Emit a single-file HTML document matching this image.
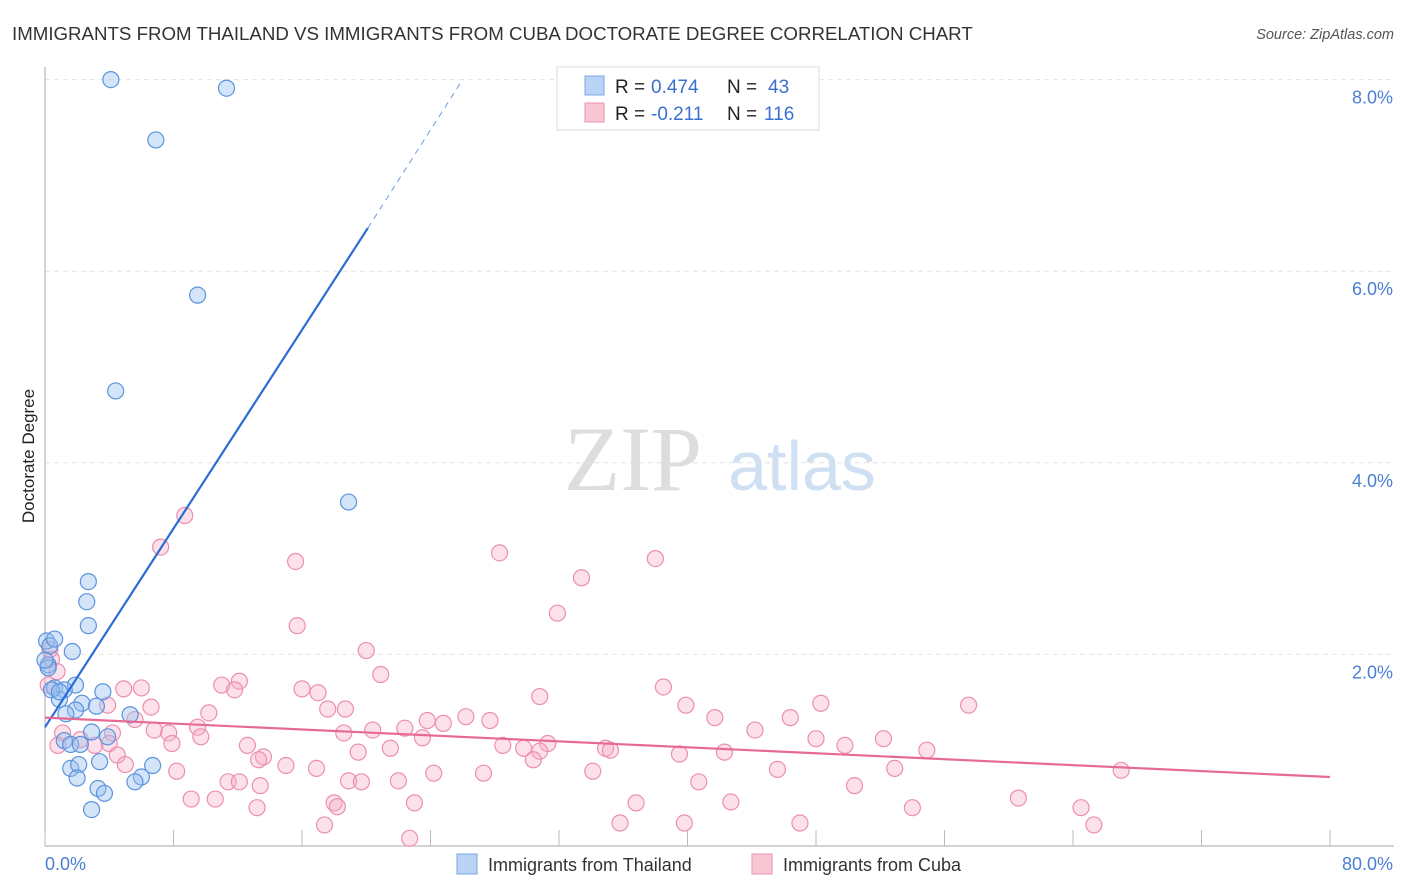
<!DOCTYPE html>
<html><head><meta charset="utf-8"><style>
body{margin:0;background:#fff;font-family:"Liberation Sans",sans-serif;}
svg{display:block}
</style></head><body>
<svg id="chart" width="1406" height="892">
<text x="12" y="40" font-size="18.7" fill="#333">IMMIGRANTS FROM THAILAND VS IMMIGRANTS FROM CUBA DOCTORATE DEGREE CORRELATION CHART</text>
<text x="1394" y="39" font-size="14.5" fill="#555" font-style="italic" text-anchor="end">Source: ZipAtlas.com</text>
<text x="34" y="456" font-size="17" fill="#222" text-anchor="middle" transform="rotate(-90 34 456)">Doctorate Degree</text>
<g><text x="633" y="490" font-size="92" fill="#ddd" font-family="Liberation Serif,serif" text-anchor="middle">ZIP</text><text x="802" y="490" font-size="70" fill="#cfe0f3" text-anchor="middle">atlas</text></g>
<g id="grid"></g><g id="marks"></g>
<g>
<rect x="557" y="67" width="262" height="63" fill="#fff" stroke="#ddd"/>
<rect x="585" y="76" width="19" height="19" fill="#b9d3f5" stroke="#7aa6e0"/>
<rect x="585" y="103" width="19" height="19" fill="#f9c6d4" stroke="#e996b0"/>
<text x="615" y="93" font-size="19" fill="#222">R =</text>
<text x="651" y="93" font-size="19" fill="#3a6fd0">0.474</text>
<text x="727" y="93" font-size="19" fill="#222">N =</text>
<text x="768" y="93" font-size="19" fill="#3a6fd0">43</text>
<text x="615" y="120" font-size="19" fill="#222">R =</text>
<text x="651" y="120" font-size="19" fill="#3a6fd0">-0.211</text>
<text x="727" y="120" font-size="19" fill="#222">N =</text>
<text x="764" y="120" font-size="19" fill="#3a6fd0">116</text>
</g>
<g>
<rect x="457" y="854" width="20" height="20" fill="#b9d3f5" stroke="#7aa6e0"/>
<text x="488" y="871" font-size="18" fill="#333">Immigrants from Thailand</text>
<rect x="752" y="854" width="20" height="20" fill="#f9c6d4" stroke="#e996b0"/>
<text x="783" y="871" font-size="18" fill="#333">Immigrants from Cuba</text>
</g>
</svg>
<script>
const yTicks=[2,4,6,8];
const xTickLabels=["0.0%","80.0%"];
const thaiX=[4.1,11.3,6.9,9.5,4.4,18.9,2.7,2.6,2.7,0.1,0.3,1.7,0.2,0.6,1.9,1.2,3.6,0.9,2.3,3.2,1.9,1.3,5.3,2.9,3.9,1.2,1.6,2.2,6.7,1.6,2.1,3.4,6.0,2.0,5.6,3.3,3.7,2.9,0.2,0.4,0.9,0.0,0.6];
const thaiY=[8.0,7.91,7.37,5.75,4.75,3.59,2.76,2.55,2.3,2.14,2.09,2.03,1.89,1.65,1.68,1.63,1.61,1.53,1.49,1.46,1.42,1.38,1.37,1.19,1.14,1.1,1.06,1.06,0.84,0.81,0.85,0.88,0.72,0.71,0.67,0.6,0.55,0.38,1.86,1.63,1.61,1.94,2.16];
const cubaX=[8.7,7.2,15.6,28.3,38.0,33.4,31.9,15.7,20.0,20.9,0.4,0.2,4.9,6.0,11.0,12.1,11.8,16.0,17.0,30.8,38.5,39.9,48.3,57.5,6.6,3.9,5.6,10.2,17.6,18.7,23.8,26.2,27.7,41.7,46.4,44.2,1.1,4.2,6.8,7.7,9.5,2.2,3.1,4.0,7.9,9.7,12.6,13.6,18.6,20.4,22.4,23.5,24.8,28.5,29.8,31.3,30.8,34.9,35.2,39.5,42.3,48.0,49.8,52.2,54.9,0.8,4.5,5.0,8.2,13.3,15.0,16.9,19.5,21.5,24.2,27.3,30.4,34.1,40.7,45.6,52.9,67.0,11.4,12.1,13.4,18.9,19.7,22.0,9.1,10.6,13.2,18.0,18.2,23.0,36.8,42.7,50.4,54.0,60.6,64.5,17.4,22.7,35.8,39.8,47.0,65.3,0.3,0.75];
const cubaY=[3.45,3.12,2.97,3.06,3.0,2.8,2.43,2.3,2.04,1.79,1.95,1.68,1.64,1.65,1.68,1.72,1.63,1.64,1.6,1.56,1.66,1.47,1.49,1.47,1.45,1.47,1.32,1.39,1.43,1.43,1.31,1.35,1.31,1.34,1.34,1.21,1.18,1.18,1.21,1.18,1.24,1.11,1.05,1.07,1.07,1.14,1.05,0.93,1.18,1.21,1.23,1.13,1.28,1.05,1.02,1.07,0.99,1.02,1.0,0.96,0.98,1.12,1.05,1.12,1.0,1.05,0.95,0.85,0.78,0.9,0.84,0.81,0.98,1.02,0.76,0.76,0.9,0.78,0.67,0.8,0.81,0.79,0.67,0.67,0.63,0.68,0.67,0.68,0.49,0.49,0.4,0.45,0.41,0.45,0.45,0.46,0.63,0.4,0.5,0.4,0.22,0.08,0.24,0.24,0.24,0.22,2.05,1.82];
const thaiLine=[[0,1.24],[20.1,6.45],[26.0,8.0]];
const cubaLine=[[0,1.34],[80,0.72]];
const X=v=>45+v*1285/80, Y=v=>846-v*95.8;
const NS="http://www.w3.org/2000/svg";
function mk(tag,attrs,parent){const e=document.createElementNS(NS,tag);for(const k in attrs)e.setAttribute(k,attrs[k]);parent.appendChild(e);return e;}
const grid=document.getElementById('grid'), marks=document.getElementById('marks');
yTicks.forEach(t=>{
 const l=mk('line',{x1:45,x2:1394,y1:Y(t),y2:Y(t),stroke:'#e2e2e2','stroke-dasharray':'5,4'},grid);
 
 
 const tx=mk('text',{x:1393,y:Y(t)+24,'font-size':18,fill:'#4a7fd4','text-anchor':'end'},grid);
 tx.textContent=t.toFixed(1)+'%';
 
 
});
mk('line',{x1:45,x2:45,y1:67,y2:846,stroke:'#aaa'},grid);
mk('line',{x1:45,x2:1394,y1:846,y2:846,stroke:'#aaa'},grid);
for(let i=0;i<=10;i++){const x=X(i*8);mk('line',{x1:x,x2:x,y1:830,y2:846,stroke:'#bbb'},grid);}
const l0=mk('text',{x:45,y:870,'font-size':18,fill:'#4a7fd4'},grid);l0.textContent=xTickLabels[0];


const l1=mk('text',{x:1393,y:870,'font-size':18,fill:'#4a7fd4','text-anchor':'end'},grid);l1.textContent=xTickLabels[1];


cubaX.forEach((x,i)=>{const c=mk('circle',{cx:X(x),cy:Y(cubaY[i]),r:8,fill:'rgba(246,170,195,0.35)',stroke:'#ec8fae','stroke-width':1.2},marks);
 
 });
thaiX.forEach((x,i)=>{const c=mk('circle',{cx:X(x),cy:Y(thaiY[i]),r:8,fill:'rgba(150,190,240,0.4)',stroke:'#5b93de','stroke-width':1.2},marks);
 
 });
const t1=mk('line',{x1:X(thaiLine[0][0]),y1:Y(thaiLine[0][1]),x2:X(thaiLine[1][0]),y2:Y(thaiLine[1][1]),stroke:'#2a6dd6','stroke-width':2.2},marks);


const t2=mk('line',{x1:X(thaiLine[1][0]),y1:Y(thaiLine[1][1]),x2:X(thaiLine[2][0]),y2:Y(thaiLine[2][1]),stroke:'#6b9be0','stroke-width':1,'stroke-dasharray':'6,5'},marks);


const c1=mk('line',{x1:X(cubaLine[0][0]),y1:Y(cubaLine[0][1]),x2:X(cubaLine[1][0]),y2:Y(cubaLine[1][1]),stroke:'#e76a94','stroke-width':2.2},marks);


</script>
</body></html>
